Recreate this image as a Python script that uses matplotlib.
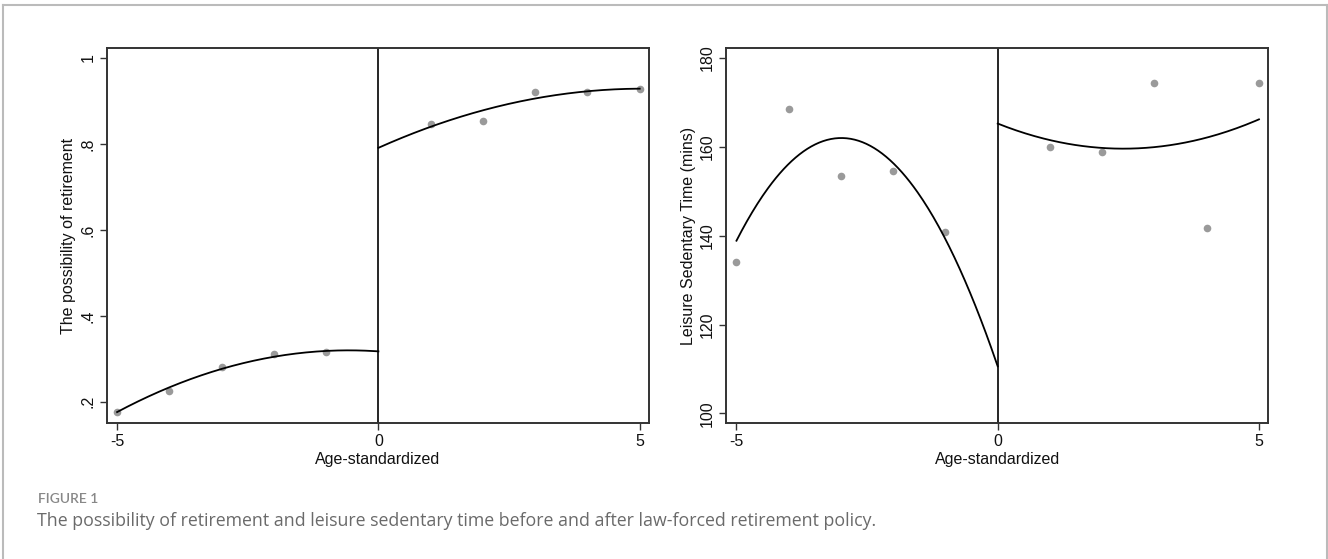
import numpy as np
import matplotlib
matplotlib.use("Agg")
import matplotlib.pyplot as plt
from matplotlib.lines import Line2D

# binned means (dots) and fitted-curve readings at integer ages
x_pre = [-5, -4, -3, -2, -1]
x_post = [1, 2, 3, 4, 5]
fit_x_pre = [-5, -4, -3, -2, -1, 0]
fit_x_post = [0, 1, 2, 3, 4, 5]

retire_pre = [0.176, 0.225, 0.281, 0.312, 0.316]
retire_post = [0.846, 0.853, 0.922, 0.922, 0.927]
retire_fit_pre = [0.176, 0.232, 0.278, 0.305, 0.316, 0.318]
retire_fit_post = [0.790, 0.842, 0.877, 0.906, 0.922, 0.929]

sed_pre = [134.1, 168.6, 153.5, 154.6, 140.8]
sed_post = [159.9, 158.8, 174.3, 141.8, 174.3]
sed_fit_pre = [138.8, 156.5, 161.8, 155.8, 140.0, 110.3]
sed_fit_post = [165.2, 161.6, 159.8, 160.0, 161.9, 166.3]

x_ticks = [-5, 0, 5]
retire_ticks = [0.2, 0.4, 0.6, 0.8, 1.0]
retire_labels = [".2", ".4", ".6", ".8", "1"]
sed_ticks = [100, 120, 140, 160, 180]

plt.rcParams['font.family'] = ['Liberation Sans', 'DejaVu Sans']

fig = plt.figure(figsize=(13.28, 5.59), dpi=100)

# light grey frame around the figure
W, H = 1328, 559
for xs, ys in [([3 / W, 3 / W], [0, 1 - 5 / H]),
               ([3 / W, 1326.5 / W], [1 - 5 / H, 1 - 5 / H]),
               ([1326.5 / W, 1326.5 / W], [0, 1 - 5 / H])]:
    fig.add_artist(Line2D(xs, ys, color="#bbbbbb", lw=1.5, transform=fig.transFigure))


def smooth(xs, ys):
    c = np.polyfit(xs, ys, 2)
    xx = np.linspace(xs[0], xs[-1], 200)
    return xx, np.polyval(c, xx)


def panel(rect, pre, post, fit_pre, fit_post, ylim, yticks, ylabels, ylabel):
    ax = fig.add_axes(rect)
    ax.plot(x_pre, pre, "o", color="#9a9a9a", ms=5.5, mec="none", zorder=3)
    ax.plot(x_post, post, "o", color="#9a9a9a", ms=5.5, mec="none", zorder=3)
    xx, yy = smooth(fit_x_pre, fit_pre)
    ax.plot(xx, yy, color="black", lw=1.3, zorder=4)
    xx, yy = smooth(fit_x_post, fit_post)
    ax.plot(xx, yy, color="black", lw=1.3, zorder=4)
    ax.axvline(0, color="black", lw=1.2)
    ax.set_xlim(-5.2, 5.18)
    ax.set_ylim(*ylim)
    ax.set_xticks(x_ticks)
    ax.set_xticklabels([str(t) for t in x_ticks])
    ax.set_yticks(yticks)
    ax.set_yticklabels(ylabels, rotation=90, va="center")
    ax.tick_params(direction="out", length=5, width=1, colors="#333333",
                   labelsize=11.5, labelcolor="#111111", pad=3)
    for s in ax.spines.values():
        s.set_color("#333333")
        s.set_linewidth(1.4)
    ax.set_xlabel("Age-standardized", fontsize=11.5, labelpad=2, color="#111111")
    ax.set_ylabel(ylabel, fontsize=11.5, labelpad=3, color="#111111")
    return ax


panel([0.0803, 0.2438, 0.4085, 0.6698], retire_pre, retire_post,
      retire_fit_pre, retire_fit_post, (0.151, 1.0226), retire_ticks,
      retire_labels, "The possibility of retirement")

panel([0.5467, 0.2438, 0.4084, 0.6698], sed_pre, sed_post,
      sed_fit_pre, sed_fit_post, (97.9, 182.2), sed_ticks,
      [str(t) for t in sed_ticks], "Leisure Sedentary Time (mins)")

fig.text(38 / W, 1 - 499 / H, "FIGURE 1", fontsize=10, color="#888888",
         family=["Lato", "DejaVu Sans"], fontweight="semibold", va="center")
fig.text(37 / W, 1 - 521 / H,
         "The possibility of retirement and leisure sedentary time before and after law-forced retirement policy.",
         fontsize=12.8, color="#6a6a6a", family=["Open Sans", "DejaVu Sans"], va="center")

fig.savefig("out.png", dpi=100)
